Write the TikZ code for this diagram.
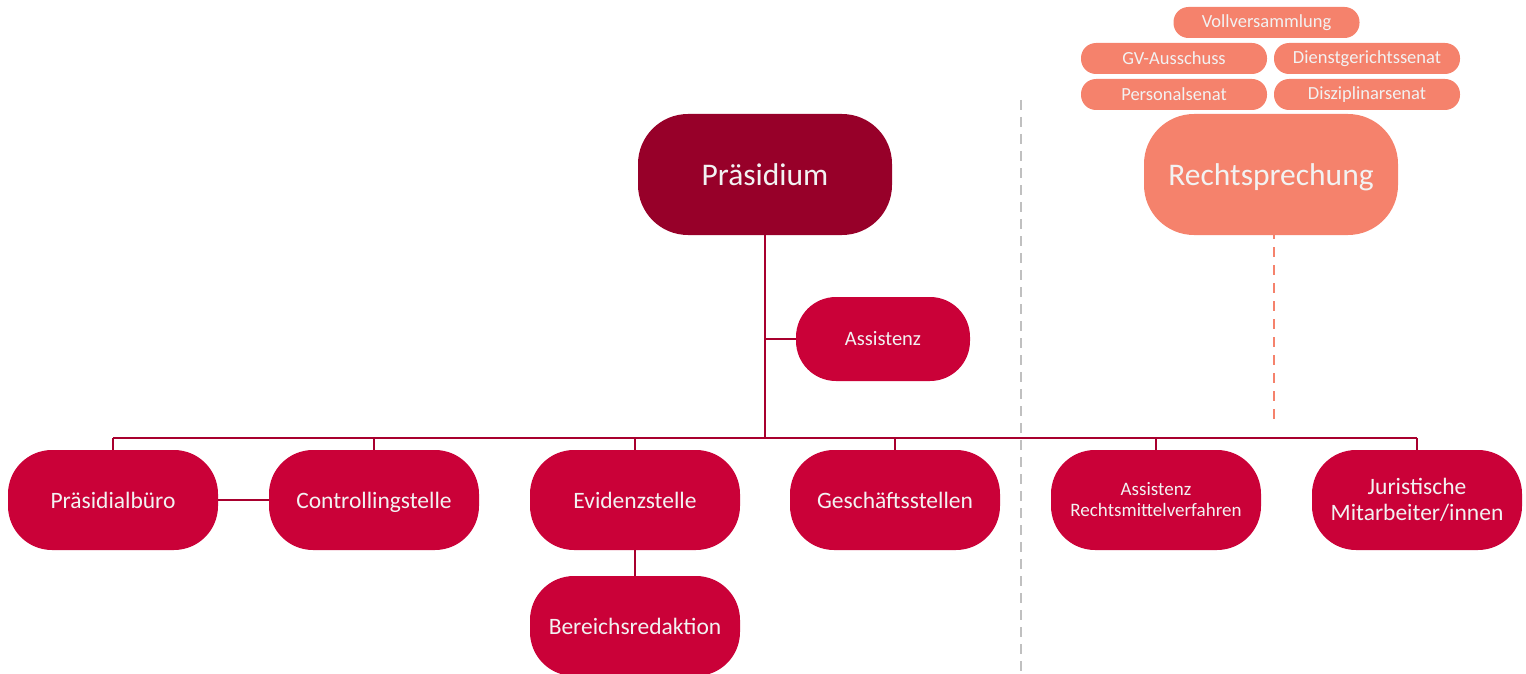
\documentclass[tikz,border=0pt]{standalone}
\usepackage{fontspec}
\setmainfont{Carlito}
\definecolor{dark}{HTML}{970029}
\definecolor{mid}{HTML}{CA0138}
\definecolor{lin}{HTML}{A8002E}
\definecolor{salmon}{HTML}{F5826C}
\definecolor{txt}{HTML}{F2F2F2}
\definecolor{sep}{HTML}{C0C0C0}
\begin{document}
\begin{tikzpicture}[x=1pt,y=-1pt,
  box/.style={rectangle,rounded corners=44pt,inner sep=0pt,text=txt,align=center,
    minimum width=210pt,minimum height=100pt,fill=mid,font=\fontsize{23.5}{28}\selectfont},
  bigbox/.style={box,minimum width=254pt,minimum height=121pt,rounded corners=50pt,font=\fontsize{31.5}{36}\selectfont},
  smallbox/.style={box,minimum width=174pt,minimum height=84pt,rounded corners=40pt,font=\fontsize{20.5}{24}\selectfont},
  pill/.style={rectangle,rounded corners=15pt,inner sep=0pt,text=txt,fill=salmon,
    minimum width=186pt,minimum height=31pt,font=\fontsize{18.5}{22}\selectfont},
  conn/.style={draw=lin,line width=2.5pt},
  ]
\useasboundingbox (0,0) rectangle (1526,674);
% separator
\coordinate (sepT) at (1021,100);
\coordinate (sepB) at (1021,674);
\draw[sep,line width=2.5pt,dash pattern=on 10pt off 7pt] (sepT) -- (sepB);
% top nodes
\node[bigbox,fill=dark] (praes) at (765,174.5) {Präsidium};
\node[bigbox,fill=salmon,text depth=0pt] (recht) at (1271,174.5) {Rechtsprechung};
\node[smallbox] (assist) at (883,339) {Assistenz};
% pills
\node[pill] (voll) at (1266.5,22.5) {Vollversammlung};
\node[pill] (gva) at (1174,58.5) {GV-Ausschuss};
\node[pill] (dgs) at (1367,58.5) {Dienstgerichtssenat};
\node[pill] (pers) at (1174,94.5) {Personalsenat};
\node[pill] (disz) at (1367,94.5) {Disziplinarsenat};
% bottom nodes
\node[box] (pb) at (113,500) {Präsidialbüro};
\node[box,text depth=0pt] (cs) at (374,500) {Controllingstelle};
\node[box] (ev) at (635,500) {Evidenzstelle};
\node[box] (gs) at (895,500) {Geschäftsstellen};
\node[box,font=\fontsize{19}{21}\selectfont] (arm) at (1156,500) {Assistenz\\Rechtsmittelverfahren};
\node[box,font=\fontsize{23.5}{26.5}\selectfont] (jm) at (1417,500) {Juristische\\Mitarbeiter/innen};
\node[box] (br) at (635,626) {Bereichsredaktion};
% connectors
\coordinate (busL) at (113,438);
\coordinate (busR) at (1417,438);
\coordinate (busM) at (765,438);
\draw[conn] (praes.south) -- (busM);
\draw[conn] (busL) -- (busR);
\draw[conn] (assist.west) -- (assist.west -| praes.south);
\foreach \n in {pb,cs,ev,gs,arm,jm}{
  \draw[conn,line width=2pt] (\n.north) -- (\n.north |- busL);
}
\draw[conn,line width=2pt] (pb.east) -- (cs.west);
\draw[conn,line width=2pt] (ev.south) -- (br.north);
\coordinate (rdB) at (1274,420);
\draw[salmon,line width=2.5pt,dash pattern=on 10pt off 8pt] ([yshift=6pt]recht.south -| rdB) -- (rdB);
\end{tikzpicture}
\end{document}
